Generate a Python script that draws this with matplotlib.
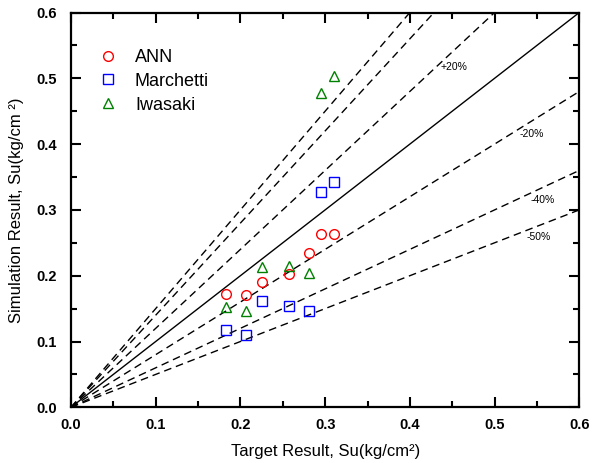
import matplotlib
matplotlib.use("Agg")
import matplotlib.pyplot as plt
from matplotlib.ticker import MultipleLocator, FormatStrFormatter

plt.rcParams["font.family"] = ["Liberation Sans", "DejaVu Sans"]

# Valores medidos (x) e simulados (y) para cada método
target = [0.183, 0.207, 0.226, 0.257, 0.281, 0.295, 0.310]
ann = [0.172, 0.171, 0.191, 0.203, 0.234, 0.263, 0.264]
marchetti = [0.118, 0.110, 0.162, 0.154, 0.147, 0.327, 0.343]
iwasaki = [0.153, 0.147, 0.213, 0.214, 0.204, 0.477, 0.503]

# Retas de erro relativo (inclinação) e seus rótulos
slopes = [1.5, 1.4, 1.2, 0.8, 0.6, 0.5]
band_labels = ["+20%", "-20%", "-40%", "-50%"]
band_label_pos = [(0.436, 0.517), (0.530, 0.415), (0.542, 0.315), (0.538, 0.259)]

fig = plt.figure(figsize=(6.0, 4.63), dpi=100)
ax = fig.add_axes([0.1183, 0.1203, 0.8472, 0.8527])

# Linha 1:1 e linhas tracejadas de erro
ax.plot([0, 0.6], [0, 0.6], color="black", lw=1.0)
for s in slopes:
    ax.plot([0, 0.6], [0, 0.6 * s], color="black", lw=1.0,
            linestyle=(0, (5.5, 3.5)))

for txt, (x, y) in zip(band_labels, band_label_pos):
    ax.text(x, y, txt, fontsize=7.5, ha="left", va="center")

ax.plot(target, ann, "o", mfc="none", mec="#ff0000", ms=7, mew=1.0,
        label="ANN")
ax.plot(target, marchetti, "s", mfc="none", mec="#0000ff", ms=6.5, mew=1.0,
        label="Marchetti")
ax.plot(target, iwasaki, "^", mfc="none", mec="#008000", ms=7.5, mew=1.0,
        label="Iwasaki")

ax.set_xlim(0, 0.6)
ax.set_ylim(0, 0.6)
ax.xaxis.set_major_locator(MultipleLocator(0.1))
ax.xaxis.set_minor_locator(MultipleLocator(0.05))
ax.yaxis.set_major_locator(MultipleLocator(0.1))
ax.yaxis.set_minor_locator(MultipleLocator(0.05))
ax.xaxis.set_major_formatter(FormatStrFormatter("%.1f"))
ax.yaxis.set_major_formatter(FormatStrFormatter("%.1f"))

ax.tick_params(which="both", direction="in", top=True, right=True,
               width=1.5)
ax.tick_params(which="major", length=7, labelsize=10.5)
ax.tick_params(axis="x", which="major", pad=8)
ax.tick_params(axis="y", which="major", pad=10)
ax.tick_params(which="minor", length=4)
for lbl in ax.get_xticklabels() + ax.get_yticklabels():
    lbl.set_fontweight("bold")
for sp in ax.spines.values():
    sp.set_linewidth(1.6)

ax.set_xlabel("Target Result, Su(kg/cm\u00b2)", fontsize=12, labelpad=8)
ax.set_ylabel("Simulation Result, Su(kg/cm \u00b2)", fontsize=12, labelpad=9)

ax.legend(loc="upper left", bbox_to_anchor=(0.03, 0.94), frameon=False,
          fontsize=13, numpoints=1, handlelength=1.0, handletextpad=1.0,
          labelspacing=0.38, borderpad=0.2)

fig.savefig("out.png", dpi=100)
